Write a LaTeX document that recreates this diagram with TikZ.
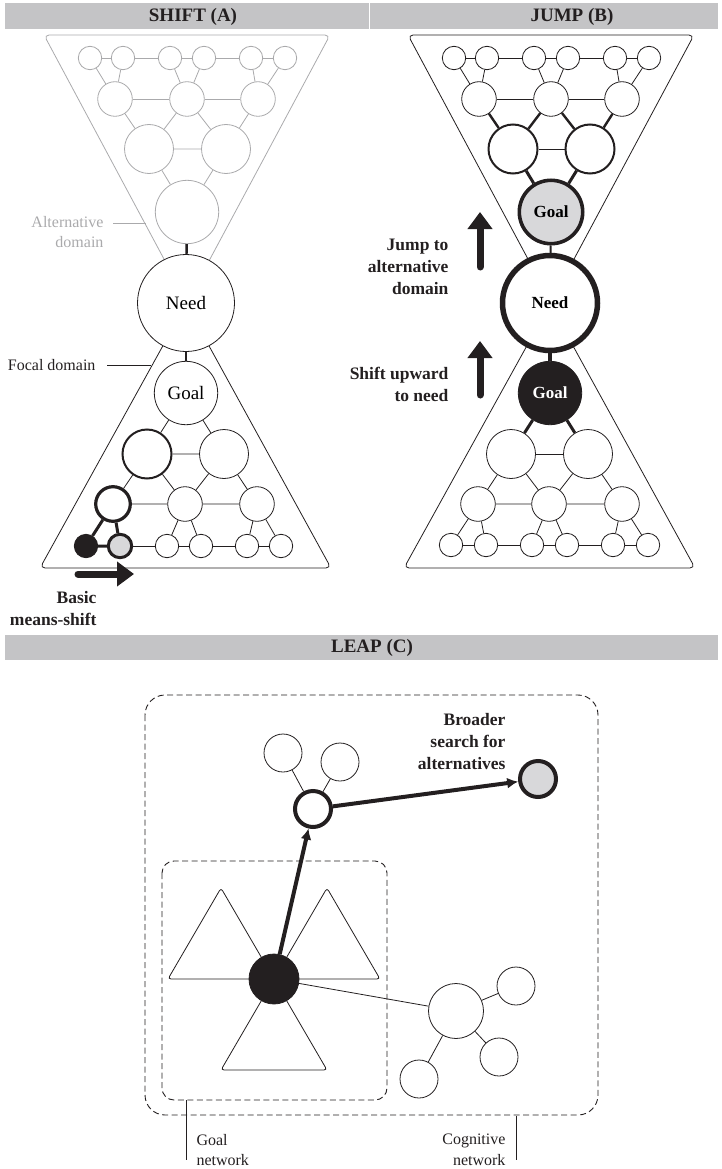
\documentclass[tikz,border=0pt]{standalone}
\usepackage{fontspec}
\setmainfont{Liberation Serif}
\usetikzlibrary{arrows.meta}
\definecolor{hdr}{RGB}{196,196,198}
\definecolor{altg}{RGB}{170,170,172}
\definecolor{fillg}{RGB}{216,216,218}
\definecolor{ink}{RGB}{35,31,32}
\tikzset{
  nd/.style={circle,draw=ink,fill=white,inner sep=0pt,line width=0.8pt},
  sz1/.style={minimum size=23.4pt},
  sz2/.style={minimum size=34.6pt},
  sz3/.style={minimum size=49pt},
  sz4/.style={minimum size=63.4pt},
  szN/.style={minimum size=97pt},
  gn/.style={nd,draw=altg},
  ln/.style={line width=0.8pt,draw=ink},
  gl/.style={line width=0.8pt,draw=altg},
  hdrbar/.style={fill=hdr,draw=none},
  hdrtxt/.style={font=\fontsize{19}{22}\selectfont\bfseries,text=ink},
  lbl/.style={font=\fontsize{16}{20.5}\selectfont,text=ink},
  blbl/.style={font=\fontsize{17.5}{22}\selectfont\bfseries,text=ink,align=right},
  bigarrow/.style={draw=ink,line width=7pt,line cap=round,-{Triangle[length=17pt,width=24pt]}},
  tri/.style={draw=ink,line width=0.8pt,rounded corners=5pt},
  dashbox/.style={draw=ink,line width=0.9pt,dash pattern=on 6pt off 3.5pt},
  carrow/.style={draw=ink,line width=4pt,-{Latex[length=11pt,width=11pt]}},
}
\begin{document}
\begin{tikzpicture}[x=1pt,y=-1pt]
\useasboundingbox (0,0) rectangle (722,1169);

% ---------------- headers
\fill[hdrbar] (5,3) rectangle (368.5,29);
\fill[hdrbar] (369.5,3) rectangle (718,29);
\fill[hdrbar] (5,635) rectangle (718,660);
\node[hdrtxt] (hA) at (193,16.5) {SHIFT (A)};
\node[hdrtxt] (hB) at (572,16.5) {JUMP (B)};
\node[hdrtxt] (hC) at (372,648) {LEAP (C)};

% ================= PANEL A
\draw[tri,draw=altg] (44,35) -- (330,35) -- (187,302) -- cycle;
\draw[tri] (186,304) -- (331,568) -- (40,568) -- cycle;

% top (alternative domain, gray)
\node[gn,sz1] (at1) at (90,58) {};
\node[gn,sz1] (at2) at (123,58) {};
\node[gn,sz1] (at3) at (170,58) {};
\node[gn,sz1] (at4) at (204,58) {};
\node[gn,sz1] (at5) at (251,58) {};
\node[gn,sz1] (at6) at (285,58) {};
\node[gn,sz2] (am1) at (115,99) {};
\node[gn,sz2] (am2) at (187,99) {};
\node[gn,sz2] (am3) at (258,99) {};
\node[gn,sz3] (al1) at (149,149) {};
\node[gn,sz3] (al2) at (226,149) {};
\node[gn,sz4] (ag) at (187,212) {};
\draw[gl] (at1)--(at2) (at2)--(at3) (at3)--(at4) (at4)--(at5) (at5)--(at6);
\draw[gl] (at1)--(am1) (at2)--(am1) (at3)--(am2) (at4)--(am2) (at5)--(am3) (at6)--(am3);
\draw[gl] (am1)--(am2) (am2)--(am3);
\draw[gl] (am1)--(al1) (am2)--(al1) (am2)--(al2) (am3)--(al2) (al1)--(al2);
\draw[gl] (al1)--(ag) (al2)--(ag);

\node[nd,szN,font=\fontsize{19}{22}\selectfont] (aneed) at (186,303) {Need};
\draw[ink,line width=2.4pt] (ag)--(aneed);

% bottom (focal domain)
\node[nd,sz4,font=\fontsize{19}{22}\selectfont] (agoal) at (186,393) {Goal};
\node[nd,sz3,line width=2pt] (bl1) at (147,454) {};
\node[nd,sz3] (bl2) at (224,454) {};
\node[nd,sz2,line width=3.2pt] (bm1) at (113,504) {};
\node[nd,sz2] (bm2) at (185,504) {};
\node[nd,sz2] (bm3) at (257,504) {};
\node[nd,sz1,fill=ink] (bs1) at (86,546) {};
\node[nd,sz1,fill=fillg,line width=3pt] (bs2) at (120,546) {};
\node[nd,sz1] (bs3) at (167,546) {};
\node[nd,sz1] (bs4) at (201,546) {};
\node[nd,sz1] (bs5) at (247,546) {};
\node[nd,sz1] (bs6) at (281,546) {};
\draw[ink,line width=2.4pt] (aneed)--(agoal);
\draw[ln] (agoal)--(bl1) (agoal)--(bl2) (bl1)--(bl2);
\draw[ln] (bl1)--(bm1) (bl1)--(bm2) (bl2)--(bm2) (bl2)--(bm3) (bm1)--(bm2) (bm2)--(bm3);
\draw[ink,line width=3pt] (bm1)--(bs1) (bm1)--(bs2) (bs1)--(bs2);
\draw[ln] (bs2)--(bs3) (bs3)--(bs4) (bs4)--(bs5) (bs5)--(bs6);
\draw[ln] (bm2)--(bs3) (bm2)--(bs4) (bm3)--(bs5) (bm3)--(bs6);

% labels A
\node[lbl,text=altg,align=right,anchor=east] (altlbl) at (107,232) {Alternative\\domain};
\coordinate (altS) at (113,223);
\coordinate (altE) at (146,223);
\draw[line width=0.9pt,altg] (altS)--(altE);
\node[lbl,anchor=east] (foclbl) at (99,365) {Focal domain};
\coordinate (focS) at (107,365);
\coordinate (focE) at (151,365);
\draw[line width=0.9pt,ink] (focS)--(focE);
\coordinate (ms1) at (78,574);
\coordinate (ms2) at (134,574);
\draw[bigarrow] (ms1)--(ms2);
\node[blbl,anchor=east] (mslbl) at (100,609) {Basic\\means-shift};

% ================= PANEL B
\begin{scope}[xshift=364pt]
\draw[tri] (44,35) -- (330,35) -- (187,302) -- cycle;
\draw[tri] (186,304) -- (331,568) -- (40,568) -- cycle;
\node[nd,sz1] (ct1) at (90,58) {};
\node[nd,sz1] (ct2) at (123,58) {};
\node[nd,sz1] (ct3) at (170,58) {};
\node[nd,sz1] (ct4) at (204,58) {};
\node[nd,sz1] (ct5) at (251,58) {};
\node[nd,sz1] (ct6) at (285,58) {};
\node[nd,sz2] (cm1) at (115,99) {};
\node[nd,sz2] (cm2) at (187,99) {};
\node[nd,sz2] (cm3) at (258,99) {};
\node[nd,sz3,line width=2pt] (cl1) at (149,149) {};
\node[nd,sz3,line width=2pt] (cl2) at (226,149) {};
\node[nd,sz4,fill=fillg,line width=3.6pt,font=\fontsize{17}{20}\selectfont\bfseries] (cgoal) at (187,212) {Goal};
\draw[ln] (ct1)--(ct2) (ct2)--(ct3) (ct3)--(ct4) (ct4)--(ct5) (ct5)--(ct6);
\draw[ln] (ct1)--(cm1) (ct2)--(cm1) (ct3)--(cm2) (ct4)--(cm2) (ct5)--(cm3) (ct6)--(cm3);
\draw[ln] (cm1)--(cm2) (cm2)--(cm3) (cl1)--(cl2);
\draw[ink,line width=2.4pt] (cm1)--(cl1) (cm2)--(cl1) (cm2)--(cl2) (cm3)--(cl2);
\draw[ink,line width=3pt] (cl1)--(cgoal) (cl2)--(cgoal);
\node[nd,minimum size=95pt,line width=5.5pt,font=\fontsize{17}{20}\selectfont\bfseries] (cneed) at (186,303) {Need};
\draw[ink,line width=2pt] (cgoal)--(cneed);
\node[nd,sz4,fill=ink,text=white,font=\fontsize{17}{20}\selectfont\bfseries] (dgoal) at (186,393) {Goal};
\draw[ink,line width=4pt] (cneed)--(dgoal);
\node[nd,sz3] (dl1) at (147,454) {};
\node[nd,sz3] (dl2) at (224,454) {};
\node[nd,sz2] (dm1) at (114,504) {};
\node[nd,sz2] (dm2) at (185,504) {};
\node[nd,sz2] (dm3) at (258,504) {};
\node[nd,sz1] (ds1) at (87,545) {};
\node[nd,sz1] (ds2) at (122,545) {};
\node[nd,sz1] (ds3) at (168,545) {};
\node[nd,sz1] (ds4) at (203,545) {};
\node[nd,sz1] (ds5) at (249,545) {};
\node[nd,sz1] (ds6) at (284,545) {};
\draw[ink,line width=3pt] (dgoal)--(dl1) (dgoal)--(dl2);
\draw[ln] (dl1)--(dl2);
\draw[ln] (dl1)--(dm1) (dl1)--(dm2) (dl2)--(dm2) (dl2)--(dm3) (dm1)--(dm2) (dm2)--(dm3);
\draw[ln] (ds1)--(ds2) (ds2)--(ds3) (ds3)--(ds4) (ds4)--(ds5) (ds5)--(ds6);
\draw[ln] (dm1)--(ds1) (dm1)--(ds2) (dm2)--(ds3) (dm2)--(ds4) (dm3)--(ds5) (dm3)--(ds6);
\end{scope}

% labels B
\coordinate (ja1) at (480,267);
\coordinate (ja2) at (480,212);
\draw[bigarrow] (ja1)--(ja2);
\node[blbl,anchor=east] (jlbl) at (452,267) {Jump to\\alternative\\domain};
\coordinate (su1) at (480,395);
\coordinate (su2) at (480,341);
\draw[bigarrow] (su1)--(su2);
\node[blbl,anchor=east] (slbl) at (452,384) {Shift upward\\to need};

% ================= PANEL C
\draw[dashbox,rounded corners=20pt] (145,695) rectangle (598,1115);
\draw[dashbox,rounded corners=12pt] (162,861) rectangle (387,1100);

\draw[tri,rounded corners=3pt] (274,979) -- (168,979) -- (221,888) -- cycle;
\draw[tri,rounded corners=3pt] (274,979) -- (327,888) -- (380,979) -- cycle;
\draw[tri,rounded corners=3pt] (274,979) -- (327,1070) -- (221,1070) -- cycle;

\node[nd,minimum size=38pt] (p1) at (283,753) {};
\node[nd,minimum size=38pt] (p2) at (340,762) {};
\node[nd,minimum size=36pt,line width=4pt] (mid) at (313,809) {};
\node[nd,minimum size=36pt,line width=4pt,fill=fillg] (tgt) at (538,779) {};
\draw[ln] (mid)--(p1) (mid)--(p2);
\node[nd,minimum size=50pt,fill=ink] (K) at (274,979) {};
\draw[carrow] (K)--(mid);
\draw[carrow] (mid)--(tgt);

\node[nd,minimum size=55pt] (big) at (456,1011) {};
\node[nd,minimum size=38pt] (q1) at (516,986) {};
\node[nd,minimum size=38pt] (q2) at (499,1057) {};
\node[nd,minimum size=38pt] (q3) at (419,1079) {};
\draw[ln] (K)--(big) (big)--(q1) (big)--(q2) (big)--(q3);

\node[blbl,anchor=east] (brlbl) at (509,742) {Broader\\search for\\alternatives};

\coordinate (gn1) at (186,1100);
\coordinate (gn2) at (186,1160);
\draw[line width=0.9pt,ink] (gn1)--(gn2);
\node[lbl,align=left,anchor=west] (gnlbl) at (193,1150) {Goal\\network};
\coordinate (cn1) at (516,1116);
\coordinate (cn2) at (516,1160);
\draw[line width=0.9pt,ink] (cn1)--(cn2);
\node[lbl,align=right,anchor=east] (cnlbl) at (509,1150) {Cognitive\\network};
\end{tikzpicture}
\end{document}
